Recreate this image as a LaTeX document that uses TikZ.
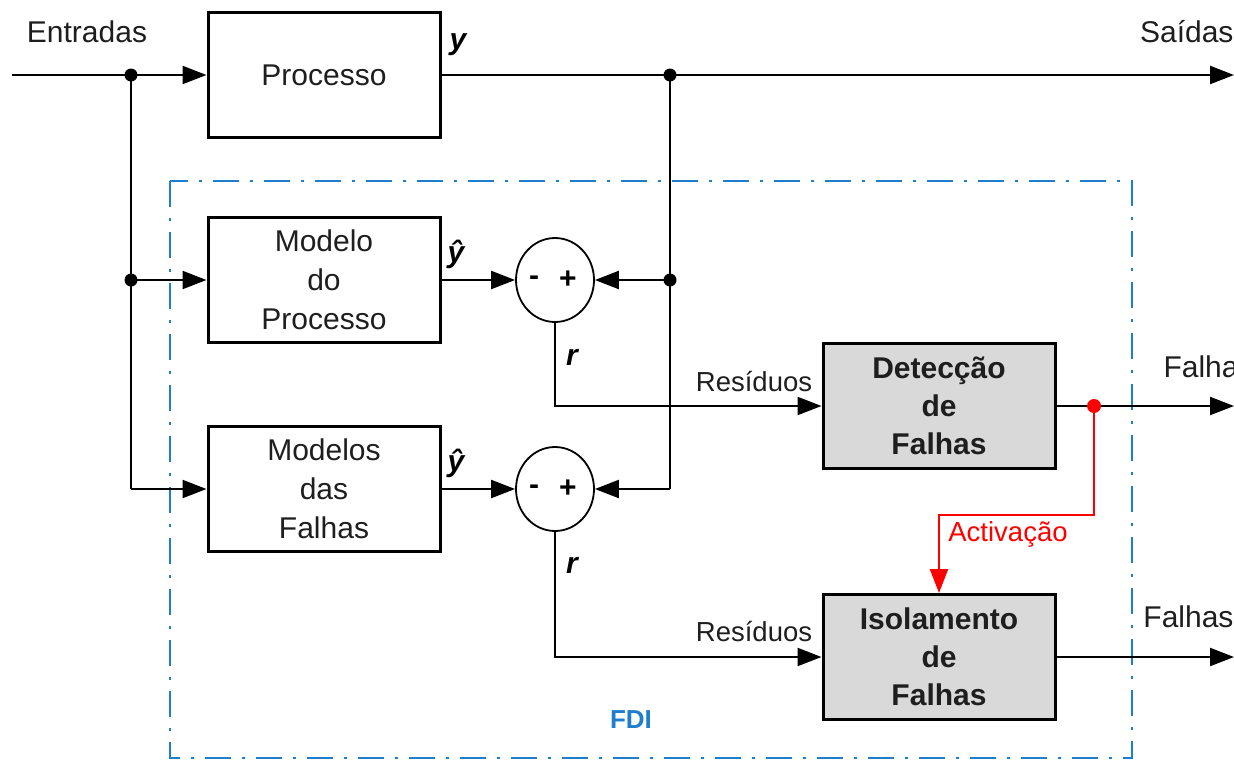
\documentclass[tikz,border=0pt]{standalone}
\usepackage{fontspec}
\setmainfont{Liberation Sans}
\usetikzlibrary{arrows.meta,shapes.geometric}
\definecolor{fdiblue}{RGB}{30,125,205}
\definecolor{boxgray}{RGB}{217,217,217}
\definecolor{actred}{RGB}{255,0,0}
\definecolor{txt}{RGB}{30,30,30}
\begin{document}
\begin{tikzpicture}[x=1pt,y=-1pt,
  font=\fontsize{30}{39}\selectfont,
  blk/.style={draw,line width=3pt,minimum width=232pt,minimum height=125pt,align=center,inner sep=0pt,text=txt},
  gblk/.style={blk,fill=boxgray,font=\fontsize{30}{38}\selectfont\bfseries},
  wire/.style={line width=2.2pt},
  arr/.style={wire,-{Triangle[length=24pt,width=18pt]}},
  dot/.style={circle,fill,inner sep=0pt,minimum size=13pt},
  sumc/.style={ellipse,draw,line width=1.8pt,minimum width=78pt,minimum height=84pt,inner sep=0pt},
  lbl/.style={font=\fontsize{27.5}{30}\selectfont,text=txt},
  big/.style={font=\fontsize{30}{32}\selectfont,text=txt},
  var/.style={font=\fontsize{30}{32}\selectfont\bfseries\itshape},
  sgn/.style={font=\fontsize{30}{32}\selectfont\bfseries},
  fdibox/.style={draw=fdiblue,line width=2.6pt,dash pattern=on 26pt off 11pt on 3pt off 11pt}
]
\useasboundingbox (0,0) rectangle (1234,763);
% FDI frame
\draw[fdibox] (170,181) rectangle (1132,758);
\node[font=\fontsize{26}{30}\selectfont\bfseries,text=fdiblue] (fdi) at (631,720) {FDI};

% blocks
\node[blk] (proc) at (324,75) {Processo};
\node[blk] (mp) at (324,280) {Modelo\\do\\Processo};
\node[blk] (mf) at (324,489) {Modelos\\das\\Falhas};
\node[gblk] (det) at (939,406) {Detecção\\de\\Falhas};
\node[gblk] (iso) at (939,657) {Isolamento\\de\\Falhas};

% summing junctions
\node[sumc] (s1) at (555,280) {};
\node[sumc] (s2) at (555,489) {};
\node[sgn] (m1) at (534,281) {-};
\node[sgn] (p1) at (568,280) {+};
\node[sgn] (m2) at (534,490) {-};
\node[sgn] (p2) at (568,489) {+};

% junctions and free ends
\coordinate (in) at (12,75);
\coordinate (out) at (1234,75);
\coordinate (out2) at (1234,406);
\coordinate (out3) at (1234,657);
\node[dot] (j1) at (131,75) {};
\node[dot] (j2) at (670,75) {};
\node[dot] (j3) at (131,280) {};
\node[dot] (j4) at (670,280) {};
\coordinate (c1) at (131,489);
\coordinate (c2) at (670,489);

% connectors
\draw[arr] (in) -- (proc.west);
\draw[wire] (j1.center) -- (c1);
\draw[arr] (j3.center) -- (mp.west);
\draw[arr] (c1) -- (mf.west);
\draw[arr] (proc.east) -- (out);
\draw[wire] (j2.center) -- (c2);
\draw[arr] (j4.center) -- (s1.east);
\draw[arr] (c2) -- (s2.east);
\draw[arr] (mp.east) -- (s1.west);
\draw[arr] (mf.east) -- (s2.west);
\draw[arr] (s1.south) |- (det.west);
\draw[arr] (s2.south) |- (iso.west);
\draw[arr] (det.east) -- (out2);
\draw[arr] (iso.east) -- (out3);

% activation
\node[dot,fill=actred,minimum size=14pt] (rd) at (1094,406) {};
\coordinate (ra) at (1094,515);
\draw[wire,draw=actred,-{Triangle[length=24pt,width=18pt]}] (rd.center) -- (ra) -| (iso.north);
\node[lbl,text=actred] (act) at (1008,534) {Activação};

% labels
\node[big] (ent) at (87,32) {Entradas};
\node[big,anchor=east] (sai) at (1237,32) {Saídas};
\node[big,anchor=west] (fa1) at (1160,367) {Falhas};
\node[big,anchor=east] (fa2) at (1237,617) {Falhas};
\node[lbl] (res1) at (754,382) {Resíduos};
\node[lbl] (res2) at (754,632) {Resíduos};
\node[var] (y) at (458,45) {y};
\node[var] (yh1) at (456,254) {\^{y}};
\node[var] (yh2) at (456,463) {\^{y}};
\node[var] (r1) at (572,357) {r};
\node[var] (r2) at (572,565) {r};
\end{tikzpicture}
\end{document}
